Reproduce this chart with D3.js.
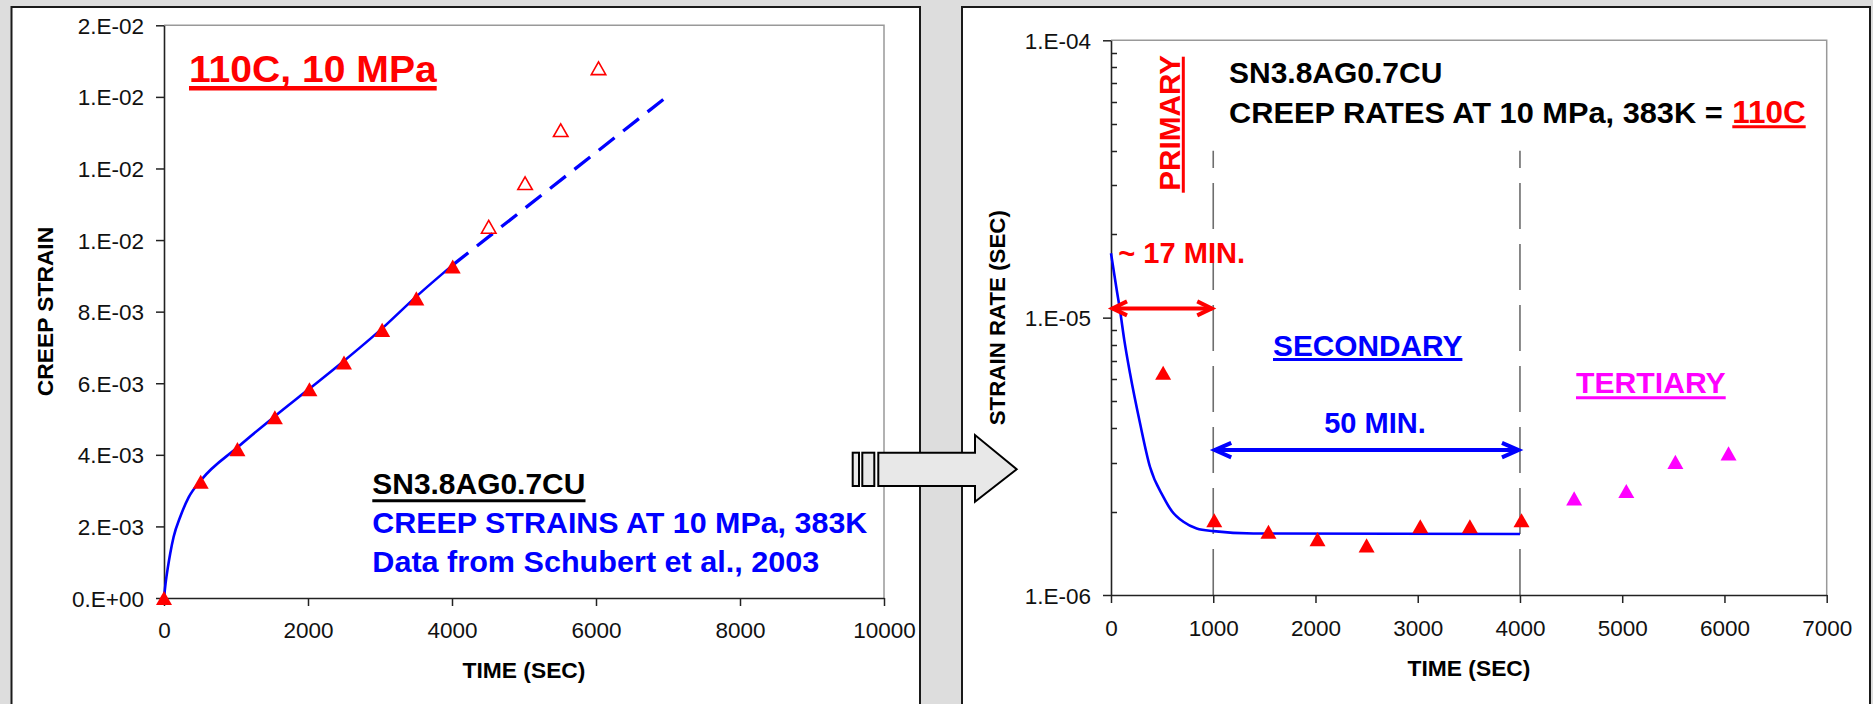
<!DOCTYPE html>
<html><head><meta charset="utf-8">
<script src="https://cdn.jsdelivr.net/npm/d3@7"></script>
<style>
html,body{margin:0;padding:0;background:#dddddd;overflow:hidden;}
svg{display:block;}
</style></head><body>
<svg id="c" width="1873" height="704"></svg>
<script>
// ---------- LEFT CHART DATA: creep strain vs time ----------
const strainTimes  = [0, 510, 1020, 1540, 2020, 2500, 3030, 3505, 4010];
const strainValues = [0, 0.00325, 0.00416, 0.00505, 0.00583, 0.00658, 0.00749, 0.00837, 0.00926];
const strainOpenTimes  = [4510, 5015, 5510, 6035];
const strainOpenValues = [0.01037, 0.01159, 0.01307, 0.01480];
const strainFitTimes  = [0, 22, 55, 87, 134, 226, 342, 518, 1022, 1541, 2021, 2503, 3035, 3503, 4008];
const strainFitValues = [0, 0.00041, 0.00087, 0.00125, 0.00171, 0.00227, 0.00281, 0.00330, 0.00421, 0.00508, 0.00585, 0.00663, 0.00754, 0.00842, 0.00930];
const strainExtrapTimes  = [4008, 7000];
const strainExtrapValues = [0.00930, 0.01403];
const strainXTicks = [0, 2000, 4000, 6000, 8000, 10000];
const strainYTicks = [0, 0.002, 0.004, 0.006, 0.008, 0.010, 0.012, 0.014, 0.016];
const strainYTickLabels = ["0.E+00","2.E-03","4.E-03","6.E-03","8.E-03","1.E-02","1.E-02","1.E-02","2.E-02"];

// ---------- RIGHT CHART DATA: strain rate vs time ----------
const rateTimes  = [510, 1010, 1540, 2020, 2500, 3025, 3510, 4015];
const rateValues = [6.33e-6, 1.86e-6, 1.69e-6, 1.59e-6, 1.51e-6, 1.77e-6, 1.77e-6, 1.86e-6];
const tertiaryTimes  = [4530, 5040, 5520, 6040];
const tertiaryValues = [2.23e-6, 2.37e-6, 3.02e-6, 3.24e-6];
const rateFitTimes  = [0, 56, 88, 130, 186, 284, 381, 512, 594, 708, 838, 1001, 1393, 4000];
const rateFitValues = [1.706e-5, 1.258e-5, 1.065e-5, 8.3e-6, 6.3e-6, 4.16e-6, 2.90e-6, 2.26e-6, 2.01e-6, 1.837e-6, 1.738e-6, 1.70e-6, 1.667e-6, 1.66e-6];
const stageBounds = [1000, 4000];
const stageLineTop = 4e-5;
const primarySpan = [0, 1000];   const primaryArrowRate = 1.08e-5;
const secondarySpan = [1000, 4000]; const secondaryArrowRate = 3.33e-6;
const rateXTicks = [0, 1000, 2000, 3000, 4000, 5000, 6000, 7000];
const rateYTicks = [1e-6, 1e-5, 1e-4];
const rateYTickLabels = ["1.E-06", "1.E-05", "1.E-04"];

const FONT = '"Liberation Sans", Arial, Helvetica, sans-serif';
const RED = "#ff0000", BLUE = "#0000ff", MAGENTA = "#ff00ff";

const svg = d3.select("#c");
svg.append("rect").attr("width", 1873).attr("height", 704).attr("fill", "#dddddd");

// panels
svg.append("rect").attr("x", 11.5).attr("y", 7).attr("width", 908.5).attr("height", 720)
  .attr("fill", "#fff").attr("stroke", "#1a1a1a").attr("stroke-width", 2);
svg.append("rect").attr("x", 962).attr("y", 7).attr("width", 908).attr("height", 720)
  .attr("fill", "#fff").attr("stroke", "#1a1a1a").attr("stroke-width", 2);

// triangle symbol centered on its bounding box
const tri = { draw(ctx, size) { const w = Math.sqrt(size), h = w * 0.88;
  ctx.moveTo(0, -h / 2); ctx.lineTo(w / 2, h / 2); ctx.lineTo(-w / 2, h / 2); ctx.closePath(); } };

function styleAxis(g) {
  g.attr("font-family", FONT);
  g.select(".domain").attr("stroke", "#222").attr("stroke-width", 1.6);
  g.selectAll(".tick line").attr("stroke", "#222").attr("stroke-width", 1.5);
  g.selectAll(".tick text").attr("font-family", FONT).attr("font-size", 22.5).attr("fill", "#111");
}
function txt(g, o) {
  const t = g.append("text").attr("x", o.x).attr("y", o.y).text(o.text)
    .attr("font-family", FONT).attr("font-size", o.size).attr("font-weight", o.weight || "bold")
    .attr("fill", o.color || "#000").attr("text-anchor", o.anchor || "start");
  if (o.width) t.attr("textLength", o.width).attr("lengthAdjust", "spacingAndGlyphs");
  if (o.transform) t.attr("transform", o.transform);
  return t;
}
function uline(g, x1, y1, x2, y2, w, c) {
  g.append("line").attr("x1", x1).attr("y1", y1).attr("x2", x2).attr("y2", y2)
    .attr("stroke", c).attr("stroke-width", w);
}
function doubleArrow(g, xa, xb, y, color, back, half, w) {
  uline(g, xa + 1, y, xb - 1, y, w, color);
  g.append("path").attr("d", `M${xa + back},${y - half}L${xa + 1.5},${y}L${xa + back},${y + half}`)
    .attr("fill", "none").attr("stroke", color).attr("stroke-width", w).attr("stroke-linejoin", "miter");
  g.append("path").attr("d", `M${xb - back},${y - half}L${xb - 1.5},${y}L${xb - back},${y + half}`)
    .attr("fill", "none").attr("stroke", color).attr("stroke-width", w).attr("stroke-linejoin", "miter");
}

// ================= LEFT CHART =================
const xL = d3.scaleLinear([0, 10000], [164, 884]);
const yL = d3.scaleLinear([0, 0.016], [598, 25.3]);
const gL = svg.append("g");

// frame (top/right gray)
gL.append("path").attr("d", `M${xL(0)},${yL(0.016)}H${xL(10000)}V${yL(0)}`)
  .attr("fill", "none").attr("stroke", "#999").attr("stroke-width", 1.5);

const axYL = gL.append("g").attr("transform", `translate(${xL(0)},0)`)
  .call(d3.axisLeft(yL).tickValues(strainYTicks).tickFormat((d, i) => strainYTickLabels[i])
    .tickSize(8).tickSizeOuter(0).tickPadding(12));
styleAxis(axYL);
axYL.selectAll(".tick text").attr("dy", "0.36em");

const axXL = gL.append("g").attr("transform", `translate(0,${yL(0)})`)
  .call(d3.axisBottom(xL).tickValues(strainXTicks).tickFormat(d3.format("d"))
    .tickSize(8).tickSizeOuter(0));
styleAxis(axXL);
axXL.selectAll(".tick text").attr("y", 40).attr("dy", null);

txt(gL, { x: 524, y: 677.5, text: "TIME (SEC)", size: 22.8, anchor: "middle" });
txt(gL, { x: 0, y: 0, text: "CREEP STRAIN", size: 22.8, anchor: "middle",
  transform: "translate(53,311.5) rotate(-90)" });

// fitted curve
const lineL = d3.line().x(d => xL(d[0])).y(d => yL(d[1]));
gL.append("path").datum(d3.zip(strainFitTimes, strainFitValues))
  .attr("d", lineL.curve(d3.curveMonotoneX)).attr("fill", "none")
  .attr("stroke", BLUE).attr("stroke-width", 2.6);
gL.append("path").datum(d3.zip(strainExtrapTimes, strainExtrapValues))
  .attr("d", d3.line().x(d => xL(d[0])).y(d => yL(d[1]))).attr("fill", "none")
  .attr("stroke", BLUE).attr("stroke-width", 3.3).attr("stroke-dasharray", "20,11");

// markers
gL.selectAll(".pf").data(d3.zip(strainTimes, strainValues)).join("path")
  .attr("transform", d => `translate(${xL(d[0])},${yL(d[1])})`)
  .attr("d", d3.symbol(tri, 256)).attr("fill", RED);
gL.selectAll(".po").data(d3.zip(strainOpenTimes, strainOpenValues)).join("path")
  .attr("transform", d => `translate(${xL(d[0])},${yL(d[1])})`)
  .attr("d", d3.symbol(tri, 210)).attr("fill", "none").attr("stroke", RED).attr("stroke-width", 1.6);

// annotations
txt(gL, { x: 189, y: 81.7, text: "110C, 10 MPa", size: 37.5, color: RED, width: 247.7 });
uline(gL, 189, 88.3, 436.7, 88.3, 4.5, RED);
txt(gL, { x: 372.3, y: 494.3, text: "SN3.8AG0.7CU", size: 29.5, color: "#000", width: 213 });
uline(gL, 372.3, 500.7, 585.5, 500.7, 3, "#000");
txt(gL, { x: 372.3, y: 533.3, text: "CREEP STRAINS AT 10 MPa, 383K", size: 30, color: BLUE, width: 495 });
txt(gL, { x: 372.3, y: 571.7, text: "Data from Schubert et al., 2003", size: 30, color: BLUE, width: 447 });

// ================= RIGHT CHART =================
const xR = d3.scaleLinear([0, 7000], [1111, 1826.7]);
const yR = d3.scaleLog([1e-6, 1e-4], [595, 40.3]);
const gR = svg.append("g");

gR.append("path").attr("d", `M${xR(0)},${yR(1e-4)}H${xR(7000)}V${yR(1e-6)}`)
  .attr("fill", "none").attr("stroke", "#999").attr("stroke-width", 1.5);

// stage boundaries
gR.selectAll(".sb").data(stageBounds).join("line")
  .attr("x1", d => xR(d)).attr("x2", d => xR(d))
  .attr("y1", yR(1e-6)).attr("y2", yR(stageLineTop))
  .attr("stroke", "#6e6e6e").attr("stroke-width", 1.6).attr("stroke-dasharray", "46,15");

const axYR = gR.append("g").attr("transform", `translate(${xR(0)},0)`)
  .call(d3.axisLeft(yR).tickValues(rateYTicks).tickFormat((d, i) => rateYTickLabels[i])
    .tickSize(8).tickSizeOuter(0).tickPadding(12));
styleAxis(axYR);
axYR.selectAll(".tick text").attr("dy", "0.36em");
// minor ticks inside
const minor = yR.ticks().filter(v => !rateYTicks.some(m => Math.abs(m - v) / m < 1e-9));
gR.selectAll(".mt").data(minor).join("line")
  .attr("x1", xR(0)).attr("x2", xR(0) + 6)
  .attr("y1", d => Math.round(yR(d)) + 0.5).attr("y2", d => Math.round(yR(d)) + 0.5)
  .attr("stroke", "#222").attr("stroke-width", 1.5);

const axXR = gR.append("g").attr("transform", `translate(0,${yR(1e-6)})`)
  .call(d3.axisBottom(xR).tickValues(rateXTicks).tickFormat(d3.format("d"))
    .tickSize(8).tickSizeOuter(0));
styleAxis(axXR);
axXR.selectAll(".tick text").attr("y", 40.7).attr("dy", null);

txt(gR, { x: 1469, y: 675.5, text: "TIME (SEC)", size: 22.8, anchor: "middle" });
txt(gR, { x: 0, y: 0, text: "STRAIN RATE (SEC)", size: 22.3, anchor: "middle",
  transform: "translate(1005,317.7) rotate(-90)" });

// fit curve
gR.append("path").datum(d3.zip(rateFitTimes, rateFitValues))
  .attr("d", d3.line().x(d => xR(d[0])).y(d => yR(d[1])).curve(d3.curveMonotoneX))
  .attr("fill", "none").attr("stroke", BLUE).attr("stroke-width", 2.6);

// markers
gR.selectAll(".rf").data(d3.zip(rateTimes, rateValues)).join("path")
  .attr("transform", d => `translate(${xR(d[0])},${yR(d[1])})`)
  .attr("d", d3.symbol(tri, 256)).attr("fill", RED);
gR.selectAll(".tf").data(d3.zip(tertiaryTimes, tertiaryValues)).join("path")
  .attr("transform", d => `translate(${xR(d[0])},${yR(d[1])})`)
  .attr("d", d3.symbol(tri, 256)).attr("fill", MAGENTA);

// span arrows
doubleArrow(gR, xR(primarySpan[0]), xR(primarySpan[1]), yR(primaryArrowRate), RED, 16, 7, 4);
doubleArrow(gR, xR(secondarySpan[0]), xR(secondarySpan[1]), yR(secondaryArrowRate), BLUE, 18, 7.3, 4);

// annotations
txt(gR, { x: 0, y: 0, text: "PRIMARY", size: 29.4, color: RED, width: 135.7,
  transform: "translate(1180,190.7) rotate(-90)" });
uline(gR, 1183.3, 192.7, 1183.3, 56.7, 3, RED);
txt(gR, { x: 1229, y: 83.3, text: "SN3.8AG0.7CU", size: 29.5, color: "#000", width: 213.3 });
txt(gR, { x: 1229, y: 123.3, text: "CREEP RATES AT 10 MPa, 383K =", size: 30.2, color: "#000", width: 493.7 });
txt(gR, { x: 1732.3, y: 123.3, text: "110C", size: 30.5, color: RED, width: 73.4 });
uline(gR, 1732.3, 126.7, 1805.7, 126.7, 3, RED);
txt(gR, { x: 1118.3, y: 263.3, text: "~ 17 MIN.", size: 29, color: RED, width: 126.7 });
txt(gR, { x: 1273, y: 355.5, text: "SECONDARY", size: 29.6, color: BLUE, width: 189.4 });
uline(gR, 1273, 359.5, 1462.4, 359.5, 3, BLUE);
txt(gR, { x: 1324.2, y: 432.7, text: "50 MIN.", size: 29, color: BLUE, width: 101.5 });
txt(gR, { x: 1576, y: 393.3, text: "TERTIARY", size: 29.9, color: MAGENTA, width: 149.7 });
uline(gR, 1576, 397.7, 1725.7, 397.7, 3, MAGENTA);

// ================= BLOCK ARROW between panels =================
const ga = svg.append("g").attr("fill", "#e8e8e8").attr("stroke", "#000").attr("stroke-width", 2)
  .attr("stroke-linejoin", "miter");
ga.append("rect").attr("x", 852.7).attr("y", 452.7).attr("width", 6.3).attr("height", 33.3);
ga.append("rect").attr("x", 862.3).attr("y", 452.7).attr("width", 12).attr("height", 33.3);
ga.append("path").attr("d", "M878.3,452.7H975V435L1016.7,469.3L975,501.7V486H878.3Z");
</script>
</body></html>
